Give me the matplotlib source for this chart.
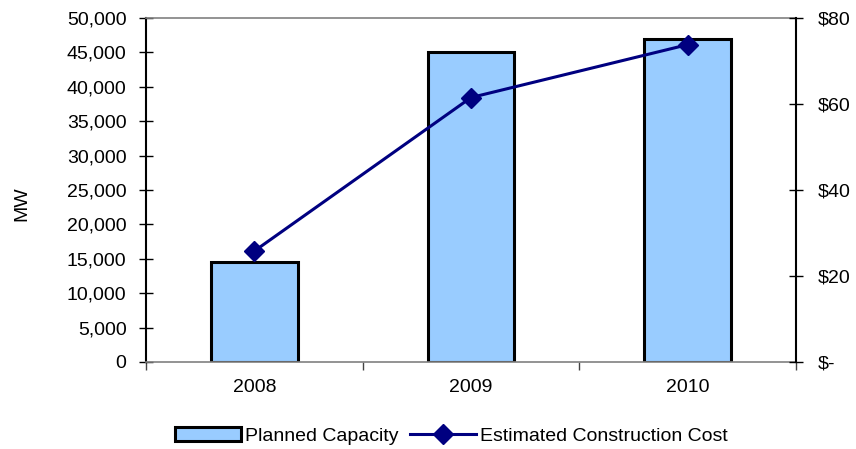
import matplotlib
matplotlib.use('Agg')
import matplotlib.pyplot as plt
from matplotlib.ticker import FuncFormatter, FixedLocator

plt.rcParams['font.family'] = ['Liberation Sans', 'DejaVu Sans']
plt.rcParams['font.size'] = 14

years = ['2008', '2009', '2010']
capacity_mw = [14500, 45000, 47000]
cost = [25.8, 61.5, 73.8]

fig = plt.figure(figsize=(8.56, 4.49), dpi=100)
ax = fig.add_axes([146 / 856, 1 - 362 / 449, 650 / 856, 344 / 449])

xs = list(range(len(years)))
bars = ax.bar(xs, capacity_mw, width=0.4, color='#99ccff', edgecolor='black',
              linewidth=2.2, label='Planned Capacity', zorder=2)
ax.set_xlim(-0.5, 2.5)
ax.set_ylim(0, 50000)
ax.set_yticks(range(0, 50001, 5000))
ax.yaxis.set_major_formatter(FuncFormatter(lambda v, p: f'{int(v):,}'))
ax.set_ylabel('MW')
ax.yaxis.set_label_coords(-0.178, 0.46)

ax.set_xticks(xs)
ax.set_xticklabels(years)
ax.tick_params(axis='x', which='major', length=0, pad=12)
ax.xaxis.set_minor_locator(FixedLocator([-0.5, 0.5, 1.5, 2.5]))
ax.tick_params(axis='x', which='minor', direction='out', length=6, width=1, color='#444444')
ax.tick_params(axis='y', direction='inout', length=10, width=1, pad=9)

for s in ['top', 'bottom']:
    ax.spines[s].set_color('#808080')
    ax.spines[s].set_linewidth(1.2)
ax.spines['left'].set_linewidth(1.5)
ax.spines['right'].set_visible(False)

ax2 = ax.twinx()
line, = ax2.plot(xs, cost, color='#000080', linewidth=2.2, marker='D', markersize=10,
                 label='Estimated Construction Cost', zorder=3)
ax2.set_ylim(0, 80)
ax2.set_yticks([0, 20, 40, 60, 80])
ax2.yaxis.set_major_formatter(FuncFormatter(lambda v, p: '$-' if v == 0 else f'${int(v)}'))
ax2.tick_params(axis='y', direction='inout', length=10, width=1, pad=11)
ax2.spines['right'].set_linewidth(1.5)
for s in ['top', 'bottom', 'left']:
    ax2.spines[s].set_visible(False)

fig.legend([bars, line], ['Planned Capacity', 'Estimated Construction Cost'],
           loc='center', bbox_to_anchor=(451 / 856, 1 - 436 / 449), ncol=2,
           frameon=False, handlelength=3.4, columnspacing=0.6, handletextpad=0.2)

fig.savefig('out.png', dpi=100)
